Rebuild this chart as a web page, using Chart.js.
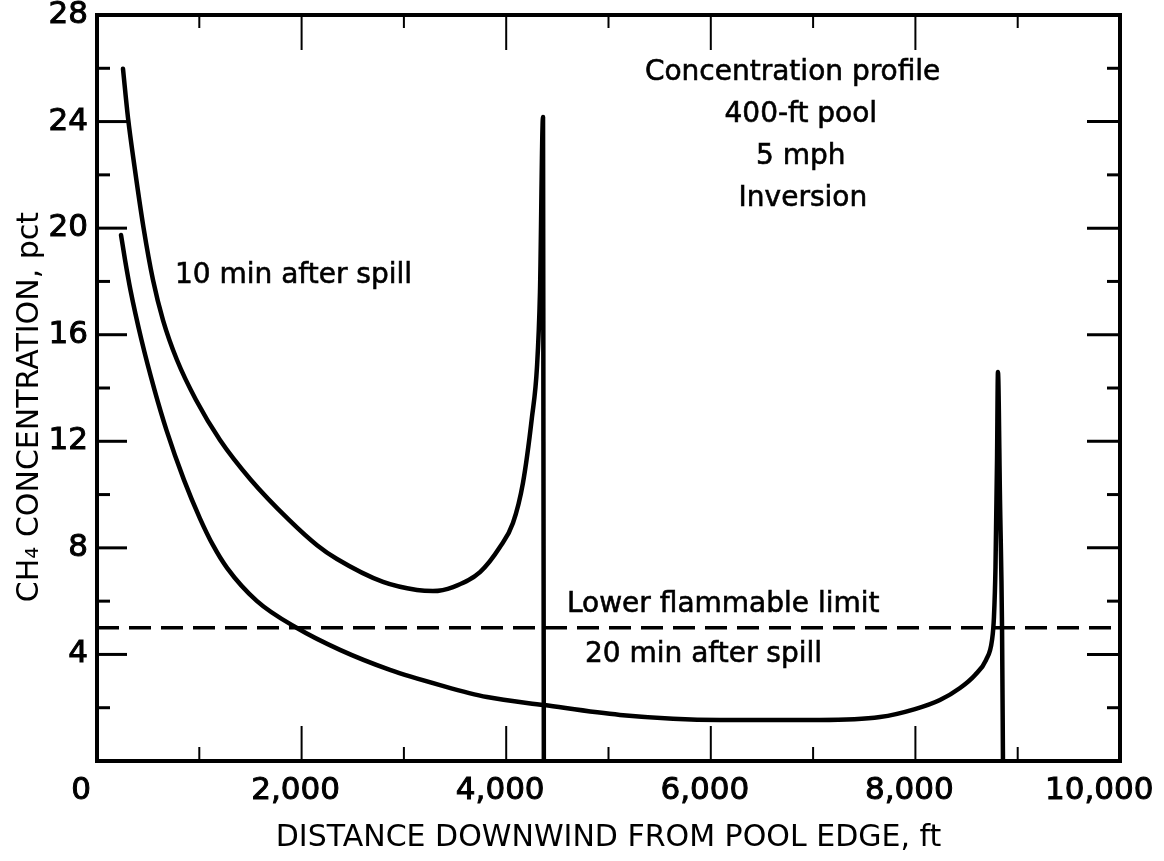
<!DOCTYPE html>
<html>
<head>
<meta charset="utf-8">
<script src="https://cdn.jsdelivr.net/npm/chart.js@4.4.1/dist/chart.umd.min.js"></script>
<style>
  body { margin: 0; background: #fff; }
  #wrap { width: 1164px; height: 861px; }
</style>
</head>
<body>
<div id="wrap"><canvas id="chart" width="1164" height="861"></canvas></div>
<script>
// 10 min after spill
const tenMinDistance = [254, 303, 367, 455, 547, 645, 782, 968, 1202, 1505, 1877, 2151, 2346, 2796, 3128, 3284, 3480, 3744, 3939, 4066, 4164, 4252, 4301, 4330, 4360, 4364, 4368];
const tenMinConc = [25.98, 24.14, 22.3, 20.01, 18.06, 16.55, 15.05, 13.55, 12.05, 10.55, 9.05, 8.1, 7.58, 6.72, 6.42, 6.38, 6.53, 7.09, 8.03, 8.93, 10.44, 12.91, 14.79, 17.57, 24.17, 12, 0];

// 20 min after spill
const twentyMinDistance = [235, 274, 327, 435, 562, 679, 850, 1007, 1134, 1271, 1564, 1955, 2375, 2864, 3353, 3812, 4370, 5112, 6090, 7067, 7654, 7996, 8240, 8436, 8583, 8690, 8749, 8768, 8783, 8798, 8807, 8827, 8847, 8856];
const twentyMinConc = [19.74, 18.81, 17.68, 15.8, 13.93, 12.42, 10.55, 9.1, 8.1, 7.25, 6.0, 4.99, 4.17, 3.42, 2.85, 2.4, 2.1, 1.73, 1.54, 1.54, 1.65, 1.95, 2.29, 2.74, 3.23, 3.79, 4.54, 5.41, 7.28, 11.3, 14.6, 9.8, 4.95, 0];

// lower flammable limit
const limitDistance = [0, 10000];
const limitConc = [5, 5];

// axes
const xTickValues = [0, 2000, 4000, 6000, 8000, 10000];
const xMinorValues = [1000, 3000, 5000, 7000, 9000];
const yTickValues = [0, 4, 8, 12, 16, 20, 24, 28];
const yMinorValues = [2, 6, 10, 14, 18, 22, 26];

const notes = [
  { text: "10 min after spill", x: 762, y: 18.2, align: "left" },
  { text: "Lower flammable limit", x: 4594, y: 5.86, align: "left" },
  { text: "20 min after spill", x: 4770, y: 3.98, align: "left" },
  { text: "Concentration profile", x: 6800, y: 25.83, align: "center" },
  { text: "400-ft pool", x: 6880, y: 24.25, align: "center" },
  { text: "5 mph", x: 6880, y: 22.67, align: "center" },
  { text: "Inversion", x: 6900, y: 21.09, align: "center" },
];

const FONT = '"DejaVu Sans", "Liberation Sans", sans-serif';

const toPoints = (xs, ys) => xs.map((x, i) => ({ x: x, y: ys[i] }));

const frame = {
  id: "frame",
  afterDatasetsDraw(chart) {
    const { ctx, chartArea: a, scales: { x, y } } = chart;
    const seg = (x1, y1, x2, y2) => {
      ctx.beginPath();
      ctx.moveTo(x1, y1);
      ctx.lineTo(x2, y2);
      ctx.stroke();
    };
    ctx.save();
    ctx.strokeStyle = "#000";
    ctx.lineWidth = 2;
    xTickValues.slice(1, -1).forEach((v) => {
      const p = x.getPixelForValue(v);
      seg(p, a.bottom, p, a.bottom - 35);
      seg(p, a.top, p, a.top + 35);
    });
    xMinorValues.forEach((v) => {
      const p = x.getPixelForValue(v);
      seg(p, a.bottom, p, a.bottom - 14);
      seg(p, a.top, p, a.top + 13);
    });
    ctx.lineWidth = 3;
    yTickValues.slice(1, -1).forEach((v) => {
      const p = y.getPixelForValue(v);
      seg(a.left, p, a.left + 30, p);
      seg(a.right, p, a.right - 33, p);
    });
    yMinorValues.forEach((v) => {
      const p = y.getPixelForValue(v);
      seg(a.left, p, a.left + 13, p);
      seg(a.right, p, a.right - 13, p);
    });
    ctx.lineWidth = 4;
    ctx.strokeRect(a.left, a.top, a.right - a.left, a.bottom - a.top);

    ctx.fillStyle = "#000";
    ctx.font = "28px " + FONT;
    ctx.textBaseline = "middle";
    ctx.lineWidth = 0.6;
    notes.forEach((n) => {
      const px = x.getPixelForValue(n.x);
      const py = y.getPixelForValue(n.y);
      ctx.textAlign = n.align;
      ctx.fillText(n.text, px, py);
      ctx.strokeText(n.text, px, py);
    });
    ctx.restore();
  },
};

new Chart(document.getElementById("chart"), {
  type: "line",
  data: {
    datasets: [
      {
        label: "10 min after spill",
        data: toPoints(tenMinDistance, tenMinConc),
        borderColor: "#000",
        borderWidth: 4.5,
        cubicInterpolationMode: "monotone",
        pointRadius: 0,
        borderCapStyle: "round",
        borderJoinStyle: "round",
      },
      {
        label: "20 min after spill",
        data: toPoints(twentyMinDistance, twentyMinConc),
        borderColor: "#000",
        borderWidth: 4.5,
        cubicInterpolationMode: "monotone",
        pointRadius: 0,
        borderCapStyle: "round",
        borderJoinStyle: "round",
      },
      {
        label: "Lower flammable limit",
        data: toPoints(limitDistance, limitConc),
        borderColor: "#000",
        borderWidth: 3.5,
        borderDash: [22, 10],
        pointRadius: 0,
      },
    ],
  },
  options: {
    responsive: false,
    animation: false,
    layout: { padding: { top: 15, right: 44, left: 0, bottom: 0 } },
    plugins: {
      legend: { display: false },
      tooltip: { enabled: false },
    },
    scales: {
      x: {
        type: "linear",
        min: 0,
        max: 10000,
        afterBuildTicks: (s) => { s.ticks = xTickValues.map((v) => ({ value: v })); },
        afterFit: (s) => { s.height = 100; s.paddingLeft = 0; s.paddingRight = 0; },
        grid: { display: false, drawTicks: false },
        border: { display: false },
        ticks: {
          autoSkip: false,
          maxRotation: 0,
          padding: 11,
          labelOffset: -6,
          color: "#000",
          textStrokeColor: "#000",
          textStrokeWidth: 1,
          font: { family: FONT, size: 31 },
          callback: (v) => {
            const s = v.toLocaleString("en-US");
            if (v === 0) return s + "  ";
            if (v === 10000) return s + "   ";
            return s;
          },
        },
        title: {
          display: true,
          text: "DISTANCE DOWNWIND FROM POOL EDGE, ft",
          color: "#000",
          font: { family: FONT, size: 30 },
          padding: { top: 0, bottom: 5 },
        },
      },
      y: {
        min: 0,
        max: 28,
        afterBuildTicks: (s) => { s.ticks = yTickValues.map((v) => ({ value: v })); },
        afterFit: (s) => { s.width = 97; s.paddingTop = 0; s.paddingBottom = 0; },
        grid: { display: false, drawTicks: false },
        border: { display: false },
        ticks: {
          padding: 9,
          color: "#000",
          textStrokeColor: "#000",
          textStrokeWidth: 1,
          font: { family: FONT, size: 31 },
          callback: (v) => (v === 0 ? "" : v),
        },
        title: {
          display: true,
          text: "CH\u2084 CONCENTRATION, pct    ",
          color: "#000",
          font: { family: FONT, size: 30 },
          padding: { top: 12, bottom: 0 },
        },
      },
    },
  },
  plugins: [frame],
});
</script>
</body>
</html>
